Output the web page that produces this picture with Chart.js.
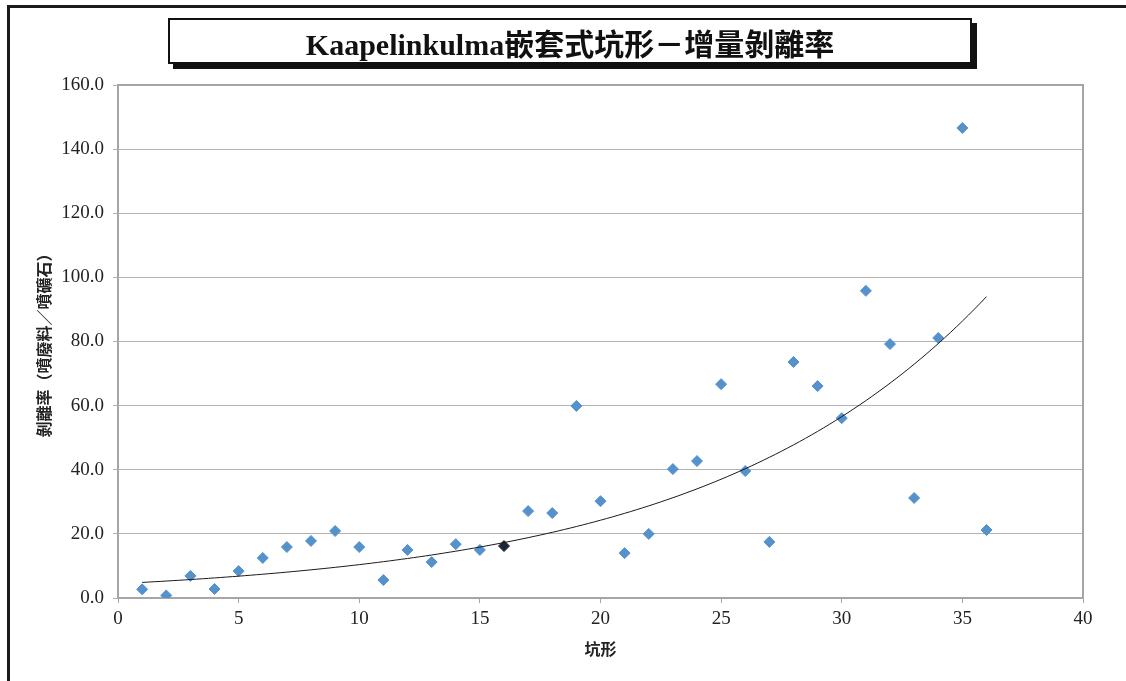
<!DOCTYPE html>
<html>
<head>
<meta charset="utf-8">
<title>Kaapelinkulma嵌套式坑形－增量剝離率</title>
<script src="https://cdn.jsdelivr.net/npm/chart.js@4.4.1/dist/chart.umd.min.js"></script>
<style>
    html, body {
        margin: 0;
        padding: 0;
        background: #fff;
        overflow: hidden;
    }
    #wrap {
        position: relative;
        width: 1126px;
        height: 681px;
    }
    #frame {
        position: absolute;
        left: 7px;
        top: 5px;
        width: 1300px;
        height: 900px;
        border-left: 3px solid #1b1b1b;
        border-top: 3px solid #1b1b1b;
    }
    #titleBox {
        position: absolute;
        left: 168px;
        top: 18px;
        width: 804px;
        height: 46px;
        box-sizing: border-box;
        border: 2px solid #111;
        box-shadow: 5px 5px 0 #111;
        background: #fff;
        text-align: center;
        line-height: 42px;
        font: bold 30px "Liberation Serif", "Noto Sans CJK TC", serif;
        color: #111;
        z-index: 2;
    }
    #chartBox {
        position: absolute;
        left: 0;
        top: 0;
        width: 1126px;
        height: 681px;
    }
</style>
</head>
<body>
<div id="wrap">
    <div id="frame"></div>
    <div id="titleBox">Kaapelinkulma嵌套式坑形－增量剝離率</div>
    <div id="chartBox"><canvas id="ratioChart"></canvas></div>
</div>
<script>
// Pit shell number and incremental strip ratio (waste / ore)
const pitIds = [1, 2, 3, 4, 5, 6, 7, 8, 9, 10, 11, 12, 13, 14, 15, 16, 17, 18,
                19, 20, 21, 22, 23, 24, 25, 26, 27, 28, 29, 30, 31, 32, 33, 34, 35, 36];
const stripRatios = [2.7, 0.8, 6.9, 2.8, 8.4, 12.5, 15.9, 17.8, 20.9, 15.9, 5.6, 15.0,
                     11.2, 16.8, 15.0, 16.2, 27.1, 26.5, 59.9, 30.2, 14.0, 20.0, 40.2, 42.7,
                     66.7, 39.6, 17.5, 73.6, 66.1, 56.1, 95.8, 79.2, 31.2, 81.1, 146.6, 21.2];
const highlightPit = 16;

const xTicks = { min: 0, max: 40, step: 5 };
const yTicks = { min: 0, max: 160, step: 20 };

const serif = '"Liberation Serif", "DejaVu Serif", serif';
const cjk = '"Noto Sans CJK TC", "Liberation Serif", sans-serif';

// Exponential trend line: least squares on ln(y), drawn from first to last pit
function exponentialTrend(xs, ys) {
    const n = xs.length;
    const lys = ys.map(v => Math.log(v));
    const mx = xs.reduce((a, b) => a + b, 0) / n;
    const my = lys.reduce((a, b) => a + b, 0) / n;
    let sxy = 0, sxx = 0;
    xs.forEach((x, i) => {
        sxy += (x - mx) * (lys[i] - my);
        sxx += (x - mx) * (x - mx);
    });
    const b = sxy / sxx;
    const a = Math.exp(my - b * mx);
    const pts = [];
    const first = xs[0], last = xs[n - 1];
    for (let x = first; x <= last + 1e-9; x += 0.25) {
        pts.push({ x: x, y: a * Math.exp(b * x) });
    }
    return pts;
}

const scatterPoints = pitIds.map((id, i) => ({ x: id, y: stripRatios[i] }));
const markerFill = pitIds.map(id => id === highlightPit ? '#1d2633' : '#5592cc');

// Plot area outline on the top and right sides
const plotFrame = {
    id: 'plotFrame',
    beforeDatasetsDraw(chart) {
        const { ctx, chartArea: a } = chart;
        ctx.save();
        ctx.strokeStyle = '#a6a6a6';
        ctx.lineWidth = 2;
        ctx.beginPath();
        ctx.moveTo(a.left, a.top);
        ctx.lineTo(a.right, a.top);
        ctx.lineTo(a.right, a.bottom);
        ctx.stroke();
        ctx.restore();
    }
};

const ctx = document.getElementById('ratioChart').getContext('2d');
new Chart(ctx, {
    type: 'scatter',
    data: {
        datasets: [
            {
                type: 'line',
                label: 'trend',
                data: exponentialTrend(pitIds, stripRatios),
                borderColor: '#1a1a1a',
                borderWidth: 1,
                pointRadius: 0,
                fill: false,
                tension: 0,
                order: 0
            },
            {
                label: '剝離率',
                data: scatterPoints,
                pointStyle: 'rectRot',
                pointRadius: 5.5,
                pointBackgroundColor: markerFill,
                pointBorderColor: markerFill,
                pointBorderWidth: 1,
                order: 1
            }
        ]
    },
    options: {
        responsive: true,
        maintainAspectRatio: false,
        animation: false,
        layout: {
            padding: { top: 85, right: 43, bottom: 0, left: 0 }
        },
        plugins: {
            legend: { display: false },
            tooltip: { enabled: false }
        },
        scales: {
            x: {
                type: 'linear',
                min: xTicks.min,
                max: xTicks.max,
                afterFit(scale) { scale.height = 83; },
                ticks: {
                    stepSize: xTicks.step,
                    color: '#222',
                    padding: 5,
                    font: { family: serif, size: 19 }
                },
                grid: {
                    drawOnChartArea: false,
                    drawTicks: true,
                    tickLength: 5,
                    color: '#a6a6a6'
                },
                border: { color: '#a6a6a6', width: 2 },
                title: {
                    display: true,
                    text: '坑形',
                    color: '#222',
                    font: { family: cjk, size: 16, weight: 'bold' },
                    padding: { top: 0, bottom: 22 }
                }
            },
            y: {
                min: yTicks.min,
                max: yTicks.max,
                afterFit(scale) { scale.width = 118; },
                ticks: {
                    stepSize: yTicks.step,
                    color: '#222',
                    padding: 9,
                    font: { family: serif, size: 19 },
                    callback: v => Number(v).toFixed(1)
                },
                grid: {
                    color: '#b3b3b3',
                    lineWidth: 1,
                    drawTicks: true,
                    tickLength: 5
                },
                border: { color: '#a6a6a6', width: 2 },
                title: {
                    display: true,
                    text: '剝離率（噴廢料／噴礦石）',
                    color: '#222',
                    font: { family: cjk, size: 16, weight: 'bold' },
                    padding: { top: 34, bottom: 0 }
                }
            }
        }
    },
    plugins: [plotFrame]
});
</script>
</body>
</html>
